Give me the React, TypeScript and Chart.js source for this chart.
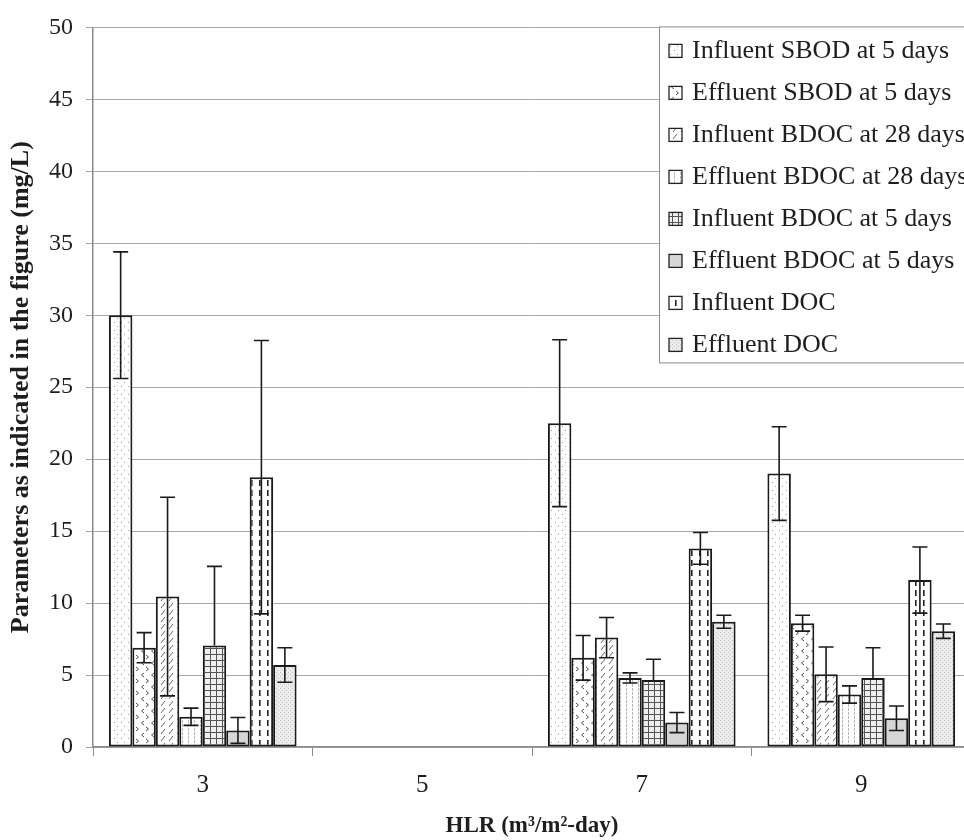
import React, { useEffect, useRef } from "react";
import { Chart, registerables } from "chart.js";

Chart.register(...registerables);

const categories = ["3", "5", "7", "9"];
const seriesLabels = [
  "Influent SBOD at 5 days",
  "Effluent SBOD at 5 days",
  "Influent BDOC at 28 days",
  "Effluent BDOC at 28 days",
  "Influent BDOC at 5 days",
  "Effluent BDOC at 5 days",
  "Influent DOC",
  "Effluent DOC",
];

const influentSBOD5 = [30.0, null, 22.5, 19.0];
const effluentSBOD5 = [6.9, null, 6.2, 8.6];
const influentBDOC28 = [10.45, null, 7.6, 5.05];
const effluentBDOC28 = [2.1, null, 4.8, 3.65];
const influentBDOC5 = [7.05, null, 4.65, 4.8];
const effluentBDOC5 = [1.15, null, 1.7, 2.0];
const influentDOC = [18.75, null, 13.8, 11.6];
const effluentDOC = [5.7, null, 8.7, 8.05];

const errInfluentSBOD5 = [4.4, null, 5.8, 3.25];
const errEffluentSBOD5 = [1.05, null, 1.55, 0.55];
const errInfluentBDOC28 = [6.9, null, 1.4, 1.9];
const errEffluentBDOC28 = [0.6, null, 0.35, 0.6];
const errInfluentBDOC5 = [5.5, null, 1.45, 2.1];
const errEffluentBDOC5 = [0.9, null, 0.7, 0.85];
const errInfluentDOC = [9.5, null, 1.1, 2.3];
const errEffluentDOC = [1.2, null, 0.45, 0.5];

const yTicks = [0, 5, 10, 15, 20, 25, 30, 35, 40, 45, 50];

const seriesValues = [
  influentSBOD5, effluentSBOD5, influentBDOC28, effluentBDOC28,
  influentBDOC5, effluentBDOC5, influentDOC, effluentDOC,
];
const seriesErrors = [
  errInfluentSBOD5, errEffluentSBOD5, errInfluentBDOC28, errEffluentBDOC28,
  errInfluentBDOC5, errEffluentBDOC5, errInfluentDOC, errEffluentDOC,
];
// series whose error bar shows only the plus direction
const plusOnly = [false, false, false, false, true, false, false, false];

const SERIF = "'Liberation Serif', 'Times New Roman', serif";

function makePattern(kind: number): CanvasPattern | string {
  const c = document.createElement("canvas");
  let w = 8, h = 8;
  if (kind === 0) { w = 7; h = 8; }
  if (kind === 1) { w = 10; h = 12; }
  if (kind === 2) { w = 8; h = 7; }
  if (kind === 3) { w = 6; h = 4; }
  if (kind === 4) { w = 6; h = 6; }
  if (kind === 6) { w = 8; h = 10; }
  if (kind === 7) { w = 4; h = 4; }
  c.width = w; c.height = h;
  const g = c.getContext("2d")!;
  g.fillStyle = "#ffffff";
  g.fillRect(0, 0, w, h);
  switch (kind) {
    case 0:
      g.fillStyle = "#9a9a9a";
      g.fillRect(2, 2, 1, 1);
      g.fillRect(5, 6, 1, 1);
      break;
    case 1:
      g.strokeStyle = "#555";
      g.lineWidth = 1;
      g.beginPath();
      g.moveTo(4, 1); g.lineTo(1.5, 3); g.lineTo(4, 5);
      g.moveTo(6, 7); g.lineTo(8.5, 9); g.lineTo(6, 11);
      g.stroke();
      break;
    case 2:
      g.strokeStyle = "#666";
      g.lineWidth = 1;
      g.beginPath();
      g.moveTo(1, 6); g.lineTo(5, 1);
      g.stroke();
      break;
    case 3:
      g.fillStyle = "#b8b8b8";
      g.fillRect(2, 0, 1, 3);
      break;
    case 4:
      g.fillStyle = "#eeeeee";
      g.fillRect(0, 0, w, h);
      g.fillStyle = "#555";
      g.fillRect(0, 0, w, 1);
      g.fillRect(0, 0, 1, h);
      break;
    case 5:
      return "#d6d6d6";
    case 6:
      g.fillStyle = "#222";
      g.fillRect(3, 0, 1.6, 6);
      break;
    case 7:
      g.fillStyle = "#ececec";
      g.fillRect(0, 0, w, h);
      g.fillStyle = "#c4c4c4";
      g.fillRect(0, 0, 1, 1);
      g.fillRect(2, 2, 1, 1);
      break;
  }
  return g.createPattern(c, "repeat")!;
}

const errorBarPlugin = {
  id: "errorBars",
  afterDatasetsDraw(chart: any) {
    const ctx = chart.ctx;
    const y = chart.scales.y;
    ctx.save();
    ctx.strokeStyle = "#1a1a1a";
    ctx.lineWidth = 1.6;
    chart.data.datasets.forEach((ds: any, i: number) => {
      const meta = chart.getDatasetMeta(i);
      meta.data.forEach((bar: any, j: number) => {
        const v = ds.data[j];
        const e = seriesErrors[i][j];
        if (v == null || e == null) return;
        const x = bar.x;
        const top = y.getPixelForValue(v + e);
        const bot = y.getPixelForValue(plusOnly[i] ? v : v - e);
        const cap = 7.5;
        ctx.beginPath();
        ctx.moveTo(x, top); ctx.lineTo(x, bot);
        ctx.moveTo(x - cap, top); ctx.lineTo(x + cap, top);
        if (!plusOnly[i]) { ctx.moveTo(x - cap, bot); ctx.lineTo(x + cap, bot); }
        ctx.stroke();
      });
    });
    ctx.restore();
  },
};

const legendPlugin = {
  id: "boxLegend",
  afterDraw(chart: any) {
    const ctx = chart.ctx;
    const area = chart.chartArea;
    const left = area.left + 566;
    const top = area.top - 1;
    const right = area.right + 2;
    const bottom = top + 336;
    ctx.save();
    ctx.fillStyle = "#ffffff";
    ctx.fillRect(left, top, right - left, bottom - top);
    ctx.strokeStyle = "#8a8a8a";
    ctx.lineWidth = 1;
    ctx.strokeRect(left + 0.5, top + 0.5, right - left, bottom - top);
    ctx.font = `26px ${SERIF}`;
    ctx.textBaseline = "middle";
    ctx.textAlign = "left";
    chart.data.datasets.forEach((ds: any, i: number) => {
      const cy = top + 24 + i * 42;
      const mx = left + 10;
      ctx.fillStyle = ds.backgroundColor;
      ctx.fillRect(mx, cy - 6, 13, 13);
      ctx.strokeStyle = "#222";
      ctx.lineWidth = 1.3;
      ctx.strokeRect(mx, cy - 6, 13, 13);
      ctx.fillStyle = "#1e1e1e";
      ctx.fillText(ds.label, left + 33, cy + 1);
    });
    ctx.restore();
  },
};

export default function App() {
  const ref = useRef<HTMLCanvasElement | null>(null);
  useEffect(() => {
    const canvas = ref.current!;
    const datasets = seriesLabels.map((label, i) => ({
      label,
      data: seriesValues[i],
      backgroundColor: makePattern(i) as any,
      borderColor: "#1a1a1a",
      borderWidth: 2,
      borderSkipped: false as any,
      categoryPercentage: 0.855,
      barPercentage: 1.0,
    }));
    const chart = new Chart(canvas, {
      type: "bar",
      data: { labels: categories, datasets },
      options: {
        animation: false,
        responsive: false,
        maintainAspectRatio: false,
        layout: { padding: { top: 25, right: 9, left: 0, bottom: 0 } },
        plugins: {
          legend: { display: false },
          tooltip: { enabled: false },
        },
        scales: {
          x: {
            afterFit: (s: any) => { s.height = 93; },
            grid: {
              display: true,
              drawOnChartArea: false,
              drawTicks: true,
              tickLength: 9,
              color: "#8a8a8a",
              offset: true,
            },
            border: { display: true, color: "#8a8a8a", width: 1.5 },
            ticks: {
              color: "#1e1e1e",
              font: { family: SERIF, size: 25 },
              padding: 14,
            },
            title: {
              display: true,
              text: "HLR (m³/m²-day)",
              color: "#1e1e1e",
              font: { family: SERIF, size: 23, weight: "bold" },
              padding: { top: 0, bottom: 0 },
            },
          },
          y: {
            min: 0,
            max: 50,
            afterFit: (s: any) => { s.width = 93; },
            afterBuildTicks: (s: any) => { s.ticks = yTicks.map((v) => ({ value: v })); },
            grid: {
              color: "#a8a8a8",
              lineWidth: 1,
              drawTicks: true,
              tickLength: 7,
            },
            border: { display: true, color: "#8a8a8a", width: 1.5 },
            ticks: {
              color: "#1e1e1e",
              font: { family: SERIF, size: 24 },
              padding: 13,
            },
            title: {
              display: true,
              text: "Parameters as indicated in the figure (mg/L)",
              color: "#1e1e1e",
              font: { family: SERIF, size: 26, weight: "bold" },
              padding: { top: 6, bottom: 0 },
            },
          },
        },
      },
      plugins: [errorBarPlugin, legendPlugin],
    });
    return () => chart.destroy();
  }, []);
  return (
    <div style={{ position: "fixed", left: 0, top: 0, width: 964, height: 840, overflow: "hidden", background: "#fff" }}>
      <canvas ref={ref} width={980} height={840} style={{ width: 980, height: 840, display: "block" }} />
    </div>
  );
}
